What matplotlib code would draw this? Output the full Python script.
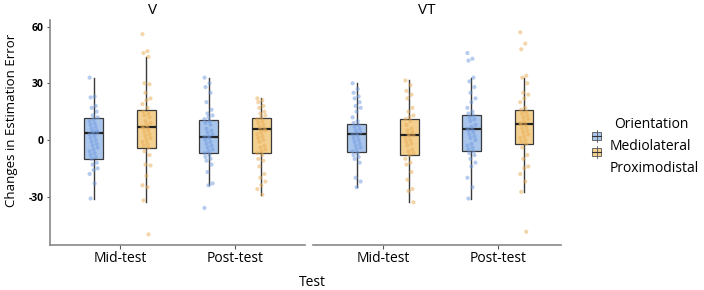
#Recreación del gráfico de cajas V / VT con puntos superpuestos
import numpy as np
import matplotlib.pyplot as plt
from matplotlib.patches import Rectangle
from matplotlib.lines import Line2D

plt.rcParams['font.family'] = ['Open Sans', 'DejaVu Sans']

#Datos
paneles = ["V", "VT"]
pruebas = ["Mid-test", "Post-test"]
orientaciones = ["Mediolateral", "Proximodistal"]

#Puntos individuales por grupo
v_mid_ml = [33, 23, 22.5, 18, 17, 15, 13, 12, 11, 10, 9, 8, 7, 6, 5, 4.5, 4, 3.5, 3, 2, 1, 0,
            -1, -2, -3, -4, -5, -6, -7, -8, -9, -10, -12, -13, -15, -16, -18, -23, -31]
v_mid_pd = [56, 47, 46, 44, 30, 29.5, 25, 22, 21, 19, 17, 15, 14, 13, 12, 10, 9, 8, 7, 6.5, 6, 5,
            4, 3, 2, 1, 0, -1, -2, -3, -4, -6, -8, -13, -13.5, -19, -24, -25, -32, -50]
v_post_ml = [33, 30, 28, 25, 20, 16, 14, 13, 12, 11, 10, 9, 8, 6, 5, 4, 3, 2, 1.5, 1, 0, -1,
             -2, -3, -4, -5, -6, -7, -8, -9, -10, -11, -13, -17, -23, -24, -36]
v_post_pd = [22, 21, 20, 18, 17, 15, 14, 13, 12, 11, 10, 9, 8, 7, 6, 5.5, 5, 4, 3, 2, 1, 0,
             -1, -3, -4, -5, -6, -7, -8, -10, -11, -14, -18, -20, -22, -24, -26, -29]
vt_mid_ml = [30, 27, 25, 23, 22, 20, 18, 17, 15, 12, 10, 9, 8, 7, 6, 5, 4, 3.5, 3, 2, 1, 0,
             -1, -2, -3, -4, -5, -6, -7, -8, -9, -10, -12, -20, -22, -25]
vt_mid_pd = [31.5, 29, 26, 24, 22, 17, 15, 13, 12, 11, 10, 8, 6, 5, 4, 3, 2.5, 2, 1, 0, -1,
             -2, -3, -5, -6, -7, -8, -10, -12, -13, -17, -21, -26, -27, -33]
vt_post_ml = [46, 43, 42, 33, 31, 28, 25, 22, 20, 17, 15, 14, 13, 12, 11, 10, 8, 7, 6, 5.5, 5,
              4, 3, 2, 1, 0, -2, -3, -4, -5, -6, -7, -8, -10, -12, -14, -20, -25, -31]
vt_post_pd = [57, 51, 48, 34, 33, 30, 25, 24, 22, 20, 17, 16, 15, 14, 13, 12, 11, 10, 9, 8.5, 8,
              7, 6, 5, 4, 3, 2, 1, 0, -1, -2, -4, -8, -10, -14, -15, -18, -22, -27.5, -48.6]

#Estadísticos de las cajas (orden: V mid ML, V mid PD, V post ML, V post PD, VT ...)
caja_q1 = [-10, -4.2, -7, -7, -6.4, -8, -5.8, -2]
caja_med = [3.7, 6.9, 1.5, 5.8, 3.2, 2.6, 5.8, 8.5]
caja_q3 = [11.6, 15.9, 10.6, 11.6, 8.5, 11, 13.2, 15.9]
bigote_inf = [-31, -32.8, -24, -29, -25, -32.8, -31, -27.5]
bigote_sup = [33, 44, 33, 22, 30, 31.7, 33, 33]

puntos = [v_mid_ml, v_mid_pd, v_post_ml, v_post_pd,
          vt_mid_ml, vt_mid_pd, vt_post_ml, vt_post_pd]

relleno = ["#a9c5ec", "#f3d08f"]
color_punto = ["#6f9be0", "#e8ad55"]

fig = plt.figure(figsize=(7.04, 2.9), dpi=100)
W, H = 704, 290

def ejes(x0, x1):
    return fig.add_axes([x0 / W, 45 / H, (x1 - x0) / W, 225 / H])

ax_izq = ejes(50, 305)
ax_der = ejes(313, 561)
desplaz = 0.23
ancho = 0.16

for p, ax in enumerate([ax_izq, ax_der]):
    for t in range(2):
        for o in range(2):
            k = p * 4 + t * 2 + o
            pos = t + 1 + (desplaz if o else -desplaz)
            est = [dict(q1=caja_q1[k], med=caja_med[k], q3=caja_q3[k],
                        whislo=bigote_inf[k], whishi=bigote_sup[k], fliers=[])]
            ax.bxp(est, positions=[pos], widths=ancho, showcaps=False, showfliers=False,
                   patch_artist=True,
                   boxprops=dict(facecolor=relleno[o], edgecolor="#3a3a3a", linewidth=0.9),
                   whiskerprops=dict(color="#3a3a3a", linewidth=1.0),
                   medianprops=dict(color="#222222", linewidth=1.6), zorder=2)
            vals = np.array(puntos[k])
            idx = np.arange(len(vals))
            #desplazamiento horizontal determinista, pequeño
            jit = (((idx * 5) % 9) - 4) / 4 * 0.035
            ax.scatter(pos + jit, vals, s=9, color=color_punto[o], alpha=0.5,
                       edgecolors="none", zorder=3)
    ax.set_xlim(0.39, 2.55 if p else 2.61)
    ax.set_ylim(-55.6, 63.5)
    ax.set_xticks([1, 2])
    ax.set_xticklabels(pruebas, fontsize=10)
    ax.tick_params(axis="x", length=3, width=0.8, color="#555555", pad=1)
    for s in ["top", "right"]:
        ax.spines[s].set_visible(False)
    ax.spines["bottom"].set_color("#888888")
    ax.spines["bottom"].set_linewidth(1.2)
    ax.set_facecolor("none")

ax_izq.set_yticks([-30, 0, 30, 60])
ax_izq.set_yticklabels(["-30", "0", "30", "60"], fontsize=7.5, fontweight="bold")
ax_izq.tick_params(axis="y", length=2.5, width=0.8, color="#555555", pad=2)
ax_izq.spines["left"].set_color("#888888")
ax_izq.spines["left"].set_linewidth(1.2)
ax_der.spines["left"].set_visible(False)
ax_der.set_yticks([])

#Títulos de paneles y ejes
fig.text(153 / W, 1 - 11 / H, paneles[0], ha="center", va="center", fontsize=11)
fig.text(427 / W, 1 - 11 / H, paneles[1], ha="center", va="center", fontsize=11)
fig.text(12 / W, 1 - 120 / H, "Changes in Estimation Error", rotation=90,
         ha="center", va="center", fontsize=9.5)
fig.text(312 / W, 1 - 282 / H, "Test", ha="center", va="center", fontsize=10)

#Leyenda dibujada a mano
fig.text(651 / W, 1 - 125 / H, "Orientation", ha="center", va="center", fontsize=10)
fig.text(610 / W, 1 - 146 / H, orientaciones[0], ha="left", va="center", fontsize=10)
fig.text(610 / W, 1 - 168 / H, orientaciones[1], ha="left", va="center", fontsize=10)
for o, yc in enumerate([136, 152]):
    fig.add_artist(Line2D([596.5 / W, 596.5 / W], [1 - (yc - 6) / H, 1 - (yc + 6) / H],
                          transform=fig.transFigure, color="#555555", linewidth=0.6))
    fig.add_artist(Rectangle((592 / W, 1 - (yc + 4) / H), 9 / W, 8 / H,
                             transform=fig.transFigure, facecolor=relleno[o],
                             edgecolor="#555555", linewidth=0.6))
    fig.add_artist(Line2D([592 / W, 601 / W], [1 - yc / H, 1 - yc / H],
                          transform=fig.transFigure, color="#333333", linewidth=0.8))

fig.savefig("out.png", dpi=100)
